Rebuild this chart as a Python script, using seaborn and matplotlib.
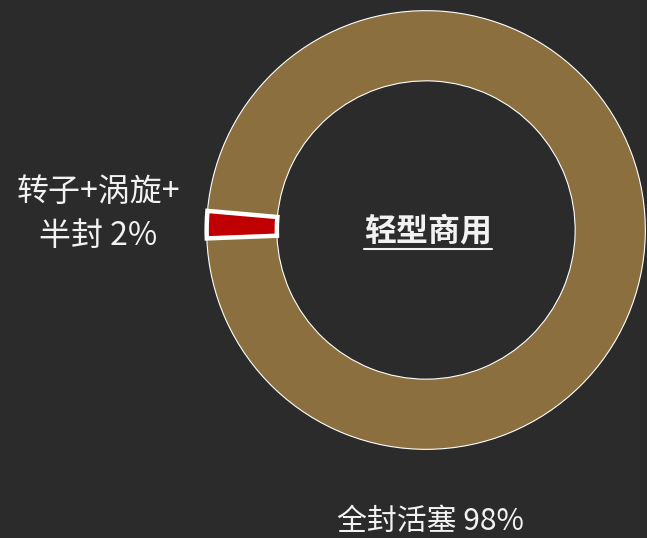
import matplotlib
matplotlib.use("Agg")
import matplotlib.pyplot as plt
import seaborn as sns
from matplotlib.lines import Line2D

# data
categories = ['全封活塞', '转子+涡旋+半封']
shares = [98, 2]
label_texts = ['全封活塞 98%', '转子+涡旋+\n半封 2%']
center_title = '轻型商用'

bg = '#2b2b2b'
colors = ['#8b6f3e', '#c00000']

sns.set_theme(style='dark', rc={'figure.facecolor': bg, 'axes.facecolor': bg})
plt.rcParams['font.family'] = ['Noto Sans CJK SC', 'DejaVu Sans']

W, H = 647, 538
fig = plt.figure(figsize=(W / 100, H / 100), dpi=100)
cx, cy, R = 426, 230, 220
ax = fig.add_axes([(cx - R) / W, (H - cy - R) / H, 2 * R / W, 2 * R / H])
ax.set_facecolor(bg)

wedges, _ = ax.pie(shares, colors=colors, startangle=175, counterclock=False,
                   radius=1, wedgeprops=dict(width=0.32, edgecolor='white', linewidth=0.8))
# red slice gets a thick white outline
wedges[1].set_linewidth(3.2)
wedges[1].set_zorder(3)
ax.set_xlim(-1.003, 1.003)
ax.set_ylim(-1.003, 1.003)
ax.set_aspect('equal')
ax.axis('off')

txt_kw = dict(color='#f2f2f2', fontweight='light', ha='center', va='center')
fig.text(98 / W, 1 - 214 / H, label_texts[1], fontsize=23, linespacing=1.45, **txt_kw)
fig.text(430 / W, 1 - 521 / H, label_texts[0], fontsize=21.5, **txt_kw)

t = fig.text(428 / W, 1 - 231 / H, center_title, color='#f2f2f2', fontsize=23,
             fontweight='bold', ha='center', va='center')

# underline for the centre title
fig.canvas.draw()
bb = t.get_window_extent()
uy = (H - 249) / H
fig.add_artist(Line2D([bb.x0 / W, bb.x1 / W], [uy, uy], color='#f2f2f2', lw=1.5))

fig.savefig('out.png', dpi=100, facecolor=bg)
